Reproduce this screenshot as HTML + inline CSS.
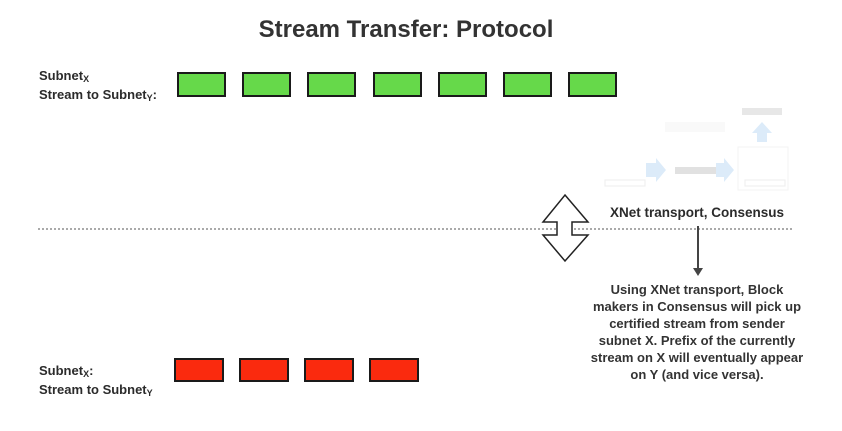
<!DOCTYPE html>
<html><head><style>
html,body{margin:0;padding:0;background:#fff;width:842px;height:431px;overflow:hidden;position:relative;font-family:"Liberation Sans",sans-serif;color:#2b2b2b}
.a{position:absolute;font-weight:bold}
.g,.r{position:absolute;border:2px solid #1a1a1a;box-sizing:border-box}
.g{background:#66d94a;width:49px;height:25px;top:72px}
.r{background:#fa2a0e;width:50px;height:24px;top:358px}
sub{font-size:9px;vertical-align:-2px}
</style></head><body>
<div class="a" style="left:0;width:812px;text-align:center;top:16px;font-size:24px;color:#333">Stream Transfer: Protocol</div>
<div class="a" style="left:39px;top:68px;font-size:13px;line-height:16px">Subnet<sub>X</sub><br>Stream to Subnet<sub>Y</sub>:</div>
<div class="g" style="left:177px"></div><div class="g" style="left:242px"></div><div class="g" style="left:307px"></div><div class="g" style="left:373px"></div><div class="g" style="left:438px"></div><div class="g" style="left:503px"></div><div class="g" style="left:568px"></div>
<div class="a" style="left:39px;top:363px;font-size:13px;line-height:16px">Subnet<sub>X</sub>:<br>Stream to Subnet<sub>Y</sub></div>
<div class="r" style="left:174px"></div><div class="r" style="left:239px"></div><div class="r" style="left:304px"></div><div class="r" style="left:369px"></div>
<svg style="position:absolute;left:0;top:0" width="842" height="431">
<g opacity="0.35">
<rect x="742" y="108" width="40" height="7" fill="#bbb"/>
<polygon points="762,122 752,133 757,133 757,142 767,142 767,133 772,133" fill="#9cc8ef"/>
<rect x="738" y="147" width="50" height="43" fill="none" stroke="#ddd"/>
<polygon points="646,163 656,163 656,158 666,170 656,182 656,177 646,177" fill="#9cc8ef"/>
<rect x="675" y="167" width="44" height="7" fill="#aaa"/>
<polygon points="716,163 724,163 724,158 734,170 724,182 724,177 716,177" fill="#9cc8ef"/>
<rect x="605" y="180" width="40" height="6" fill="none" stroke="#ccc"/>
<rect x="745" y="180" width="40" height="6" fill="none" stroke="#ccc"/>
<rect x="665" y="122" width="60" height="10" fill="#eee"/>
</g>
<line x1="38" y1="229" x2="792" y2="229" stroke="#555" stroke-width="1" stroke-dasharray="2,2"/>
<polygon points="565,195 588,222 572,222 572,235 588,235 565,261 543,235 557,235 557,222 543,222" fill="#fff" stroke="#222" stroke-width="1.5"/>
<line x1="698" y1="226" x2="698" y2="270" stroke="#444" stroke-width="2"/>
<polygon points="693,268 703,268 698,276" fill="#444"/>
</svg>
<div class="a" style="left:597px;top:205px;font-size:13.5px;width:200px;text-align:center">XNet transport, Consensus</div>
<div class="a" style="left:547px;top:281px;width:300px;text-align:center;font-size:13px;line-height:17px;color:#333;white-space:nowrap">Using XNet transport, Block<br>makers in Consensus will pick up<br>certified stream from sender<br>subnet X. Prefix of the currently<br>stream on X will eventually appear<br>on Y (and vice versa).</div>
</body></html>
